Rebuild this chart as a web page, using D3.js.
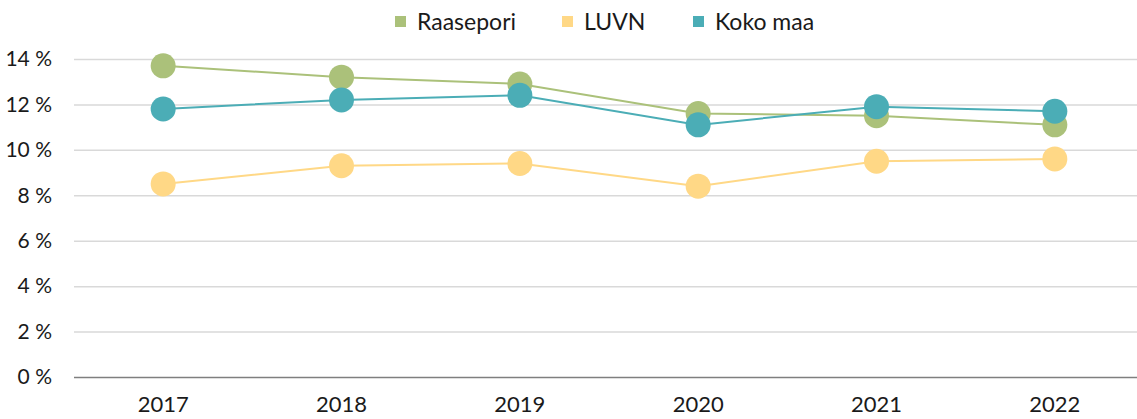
<!DOCTYPE html>
<html>
  <head>
    <meta charset="utf-8">
    <title>Raasepori / LUVN / Koko maa</title>
    <style>
      body { margin: 0; background: #fff; }
      svg { display: block; }
      svg text { font-family: Lato, "Open Sans", sans-serif; }
      .tick text { fill: #1a1a1a; }
    </style>
    <script src="https://cdnjs.cloudflare.com/ajax/libs/d3/7.8.5/d3.min.js"></script>
  </head>
  <body>
    <div id="chart"></div>
    <script>
    var years = ['2017', '2018', '2019', '2020', '2021', '2022'];
    var raasepori = [13.7, 13.2, 12.9, 11.6, 11.5, 11.1];
    var luvn = [8.5, 9.3, 9.4, 8.4, 9.5, 9.6];
    var kokoMaa = [11.8, 12.2, 12.4, 11.1, 11.9, 11.7];
    var yTicks = [0, 2, 4, 6, 8, 10, 12, 14];

    var series = [
      { name: 'Raasepori', values: raasepori, color: '#abc17a' },
      { name: 'LUVN', values: luvn, color: '#ffd886' },
      { name: 'Koko maa', values: kokoMaa, color: '#4badb6' }
    ];

    var w = 1137, h = 419;
    var plotLeft = 74, plotRight = 1144, plotTop = 59, plotBottom = 377;

    var svg = d3.select('#chart').append('svg').attr('width', w).attr('height', h);

    var x = d3.scaleBand().domain(years).range([plotLeft, plotRight]);
    var y = d3.scaleLinear().domain([0, 14]).range([plotBottom, plotTop]);

    // gridlines + y labels
    var yAxis = svg.append('g')
      .attr('transform', 'translate(' + plotLeft + ',0)')
      .call(d3.axisLeft(y).tickValues(yTicks).tickSize(-(plotRight - plotLeft)).tickPadding(22)
        .tickFormat(function(d) { return d + ' %'; }));
    yAxis.select('.domain').remove();
    yAxis.selectAll('.tick line')
      .style('stroke', function(d) { return d === 0 ? '#7f7f7f' : '#d9d9d9'; })
      .style('stroke-width', 1.5);
    yAxis.selectAll('.tick text').style('font-size', '21px');

    // x labels
    var xAxis = svg.append('g')
      .attr('transform', 'translate(0,' + plotBottom + ')')
      .call(d3.axisBottom(x).tickSize(0).tickPadding(19));
    xAxis.select('.domain').remove();
    xAxis.selectAll('.tick text').style('font-size', '22px');

    var line = d3.line()
      .x(function(d, i) { return x(years[i]) + x.bandwidth() / 2; })
      .y(function(d) { return y(d); });

    series.forEach(function(s) {
      var g = svg.append('g').attr('class', 'series');
      g.append('path')
        .datum(s.values)
        .attr('d', line)
        .style('fill', 'none')
        .style('stroke', s.color)
        .style('stroke-width', 2);
      g.selectAll('circle').data(s.values).enter().append('circle')
        .attr('cx', function(d, i) { return x(years[i]) + x.bandwidth() / 2; })
        .attr('cy', function(d) { return y(d); })
        .attr('r', 12.5)
        .style('fill', s.color);
    });

    // legend
    var legendX = [395, 562, 693];
    var legend = svg.append('g').attr('class', 'legend');
    series.forEach(function(s, i) {
      legend.append('rect')
        .attr('x', legendX[i]).attr('y', 16)
        .attr('width', 11).attr('height', 11)
        .style('fill', s.color);
      legend.append('text')
        .attr('x', legendX[i] + 22).attr('y', 30)
        .style('font-size', '23px')
        .style('fill', '#1a1a1a')
        .text(s.name);
    });
    </script>
  </body>
</html>
